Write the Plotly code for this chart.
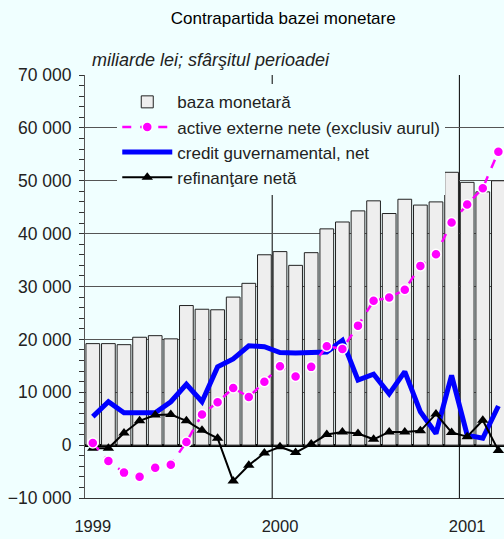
import plotly.graph_objects as go

# Monthly data, Jan 1999 - Mar 2001 (miliarde lei, end of period)
months = list(range(27))
year_labels = ["1999", "2000", "2001"]
year_ticks = [0, 12, 24]

baza_monetara = [19200, 19200, 19000, 20400, 20700, 20100, 26400, 25700, 25600,
                 28000, 30600, 36000, 36600, 34000, 36400, 40900, 42200, 44300,
                 46200, 43800, 46500, 45400, 46000, 51600, 49700, 47900, 50000]

active_externe = [400, -3000, -5200, -6000, -4300, -3700, 600, 5800, 8100,
                  10800, 9100, 12000, 14900, 13000, 14800, 18700, 18200, 22600,
                  27300, 27900, 29400, 33900, 36100, 42100, 45500, 48600, 55500]

credit_guv = [5400, 8200, 6100, 6200, 6100, 8200, 11500, 8200, 14800,
              16300, 18800, 18600, 17500, 17400, 17500, 17600, 19800, 12300,
              13400, 9700, 13900, 6300, 2200, 13200, 1900, 1300, 7400]

refinantare = [-600, -600, 2300, 4600, 5700, 5800, 4600, 2800, 1300,
               -6800, -3800, -1500, -300, -1400, 200, 2000, 2500, 2200,
               1100, 2500, 2500, 2700, 5900, 2400, 1600, 4700, -1000]

BG = "#F0FFFF"
FONT = "Liberation Sans, Arial, sans-serif"

fig = go.Figure()

fig.add_trace(go.Bar(
    x=months, y=baza_monetara, name="baza monetară",
    marker=dict(color="#EEEEEE", line=dict(color="#222222", width=1)),
    legendrank=1,
))
fig.add_trace(go.Scatter(
    x=months, y=credit_guv, name="credit guvernamental, net", mode="lines",
    line=dict(color="#0000FF", width=5),
    legendrank=3,
))
fig.add_trace(go.Scatter(
    x=months, y=refinantare, name="refinanţare netă", mode="lines+markers",
    line=dict(color="black", width=2),
    marker=dict(symbol="triangle-up", size=10, color="black"),
    legendrank=4,
))
fig.add_trace(go.Scatter(
    x=months, y=active_externe, name="active externe nete (exclusiv aurul)",
    mode="lines+markers",
    line=dict(color="#FF00FF", width=2.5, dash="dash"),
    marker=dict(symbol="circle", size=10, color="#FF00FF",
                line=dict(color="white", width=1.5)),
    legendrank=2,
))

# year boundaries
for k in range(1, len(year_ticks)):
    fig.add_vline(x=year_ticks[k] - 0.5, line=dict(color="black", width=1), layer="below")

fig.add_annotation(
    text="<i>miliarde lei; sfârşitul perioadei</i>",
    xref="paper", yref="paper", x=0.012, y=1.035,
    xanchor="left", yanchor="middle", showarrow=False,
    font=dict(size=18, color="#222222"),
)

fig.update_layout(
    width=504, height=539,
    margin=dict(l=85, r=0, t=75, b=41),
    paper_bgcolor=BG, plot_bgcolor=BG,
    font=dict(family=FONT, size=16, color="#222222"),
    separators=", ",
    bargap=0.12,
    title=dict(text="Contrapartida bazei monetare", x=0.562, y=0.967,
               xanchor="center", yanchor="middle",
               font=dict(size=17, color="black")),
    showlegend=True,
    legend=dict(x=0.077, y=0.978, xanchor="left", yanchor="top",
                bgcolor=BG, borderwidth=0, itemwidth=50,
                font=dict(size=17, color="#222222")),
    xaxis=dict(range=[-0.5, 26.36], tickvals=year_ticks, ticktext=year_labels,
               showgrid=False, zeroline=False, ticks="outside", ticklen=13,
               tickcolor="rgba(0,0,0,0)", automargin=False,
               showline=True, linecolor="#333333", linewidth=1,
               tickfont=dict(size=16.5)),
    yaxis=dict(range=[-10000, 70000], dtick=10000, tickformat=",",
               showgrid=True, gridcolor="#555555", gridwidth=1,
               zeroline=True, zerolinecolor="black", zerolinewidth=2.5,
               showline=True, linecolor="#555555", linewidth=1,
               ticks="outside", ticklen=5, tickcolor="#333333", automargin=False,
               ticklabelstandoff=4,
               minor=dict(dtick=2000, ticks="outside", ticklen=5, tickcolor="#333333"),
               tickfont=dict(size=17.5)),
)

fig.write_html("out.html", config={"displayModeBar": False},
               post_script="document.body.style.margin='0';document.body.style.overflow='hidden';")
